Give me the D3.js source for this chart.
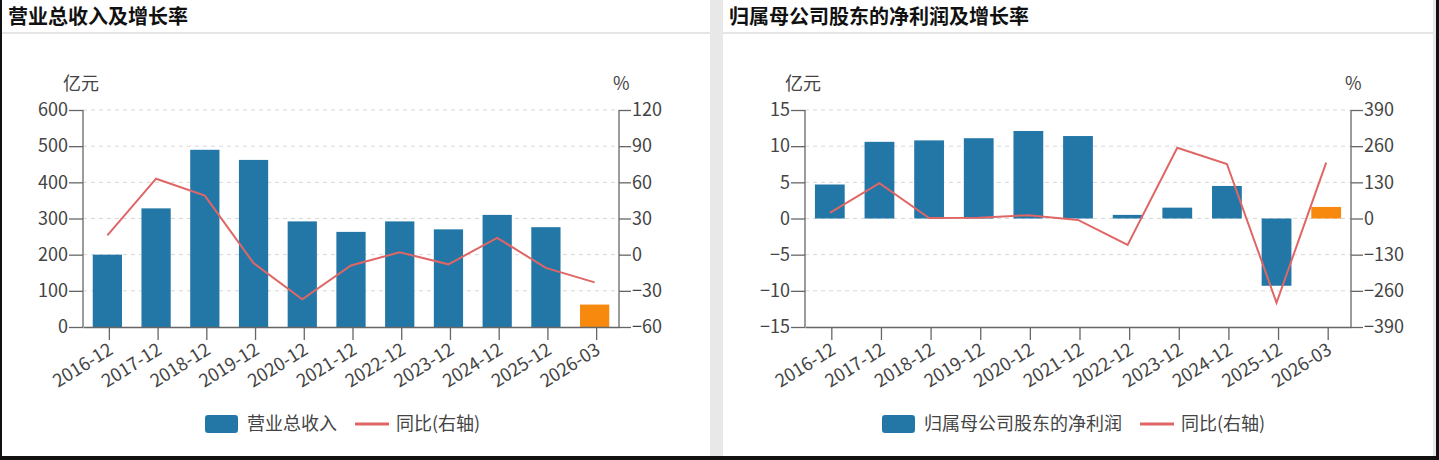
<!DOCTYPE html>
<html lang="zh">
<head>
<meta charset="UTF-8">
<title>营业总收入及增长率 / 归属母公司股东的净利润及增长率</title>
<script src="https://d3js.org/d3.v7.min.js"></script>
<style>
  body, html { margin: 0; padding: 0; background: #fff; }
  svg { display: block; font-family: "Noto Sans CJK SC", "Noto Sans", sans-serif; }
</style>
</head>
<body>
<div id="chart"></div>
<script>
// categories shared by both charts
var categories = ["2016-12", "2017-12", "2018-12", "2019-12", "2020-12", "2021-12",
                  "2022-12", "2023-12", "2024-12", "2025-12", "2026-03"];

// 营业总收入 (亿元) and its yoy (%)
var revenue    = [200, 328, 490, 462, 292, 263, 292, 270, 310, 276, 62];
var revenueYoY = [16, 63, 49, -7, -37, -9, 2, -8, 14, -11, -23];
var revTicksLeft  = [0, 100, 200, 300, 400, 500, 600];
var revTicksRight = [-60, -30, 0, 30, 60, 90, 120];

// 归属母公司股东的净利润 (亿元) and its yoy (%)
var profit    = [4.7, 10.6, 10.8, 11.1, 12.1, 11.4, 0.5, 1.5, 4.5, -9.3, 1.6];
var profitYoY = [20, 127, 2, 3, 12, -5, -95, 254, 196, -303, 201];
var profitTicksLeft  = [-15, -10, -5, 0, 5, 10, 15];
var profitTicksRight = [-390, -260, -130, 0, 130, 260, 390];

var W = 1439, H = 460;
var blue = "#2277a7", orange = "#f7890f", red = "#e06666";
var textColor = "#444", axColor = "#666";

var svg = d3.select("#chart").append("svg")
    .attr("width", W)
    .attr("height", H);

// page background, gap between the two cards, outer frame
svg.append("rect").attr("width", W).attr("height", H).attr("fill", "#fff");
svg.append("rect").attr("x", 710).attr("y", 0).attr("width", 13).attr("height", H).attr("fill", "#e8e8e8");
svg.append("rect").attr("x", 1433).attr("y", 0).attr("width", 3).attr("height", H).attr("fill", "#e8e8e8");
svg.append("rect").attr("x", 0).attr("y", 0).attr("width", 2).attr("height", H).attr("fill", "#111");
svg.append("rect").attr("x", 1436).attr("y", 0).attr("width", 3).attr("height", H).attr("fill", "#111");
svg.append("rect").attr("x", 0).attr("y", 456).attr("width", W).attr("height", 4).attr("fill", "#111");

function drawPanel(opt) {
    var g = svg.append("g");

    // card title + separator
    g.append("text")
        .attr("x", opt.cardX + 6)
        .attr("y", 24)
        .attr("font-size", 20)
        .attr("font-weight", "bold")
        .attr("fill", "#111")
        .text(opt.title);
    g.append("line")
        .attr("x1", opt.cardX).attr("x2", opt.cardX + opt.cardW)
        .attr("y1", 33).attr("y2", 33)
        .attr("stroke", "#ddd").attr("stroke-width", 1.5);

    var x = d3.scaleBand()
        .domain(categories)
        .range([opt.left, opt.right])
        .paddingInner(0.4)
        .paddingOuter(0.2);

    var yL = d3.scaleLinear()
        .domain(d3.extent(opt.ticksLeft))
        .range([opt.bottom, opt.top]);
    var yR = d3.scaleLinear()
        .domain(d3.extent(opt.ticksRight))
        .range([opt.bottom, opt.top]);

    // dashed grid
    g.selectAll(".grid")
        .data(opt.ticksLeft.filter(function(t) { return yL(t) < opt.bottom - 1; }))
        .enter().append("line")
        .attr("x1", opt.left).attr("x2", opt.right)
        .attr("y1", function(d) { return yL(d); })
        .attr("y2", function(d) { return yL(d); })
        .attr("stroke", "#d8d8d8")
        .attr("stroke-dasharray", "4,4");

    // bars
    g.selectAll(".bar")
        .data(opt.bars)
        .enter().append("rect")
        .attr("x", function(d, i) { return x(categories[i]); })
        .attr("width", x.bandwidth())
        .attr("y", function(d) { return yL(Math.max(0, d)); })
        .attr("height", function(d) { return Math.abs(yL(d) - yL(0)); })
        .attr("fill", function(d, i) { return i === categories.length - 1 ? orange : blue; });

    // yoy line on the right axis
    var line = d3.line()
        .x(function(d, i) { return x(categories[i]) + x.bandwidth() / 2; })
        .y(function(d) { return yR(d); });
    g.append("path")
        .datum(opt.yoy)
        .attr("d", line)
        .attr("fill", "none")
        .attr("stroke", red)
        .attr("stroke-width", 2);

    // axes
    var axL = g.append("g")
        .attr("transform", "translate(" + opt.left + ",0)")
        .call(d3.axisLeft(yL).tickValues(opt.ticksLeft).tickSize(14).tickPadding(1));
    var axR = g.append("g")
        .attr("transform", "translate(" + opt.right + ",0)")
        .call(d3.axisRight(yR).tickValues(opt.ticksRight).tickSize(12).tickPadding(1));
    var axB = g.append("g")
        .attr("transform", "translate(0," + opt.bottom + ")")
        .call(d3.axisBottom(x).tickSize(13).tickSizeOuter(0).tickPadding(3));

    [axL, axR, axB].forEach(function(a) {
        a.selectAll("path, line").attr("stroke", axColor).attr("stroke-width", 1.3);
        a.selectAll("text")
            .attr("fill", textColor)
            .attr("font-size", 18)
            .attr("font-family", "'Noto Sans CJK SC', sans-serif");
    });
    axL.select(".domain").attr("d", "M0," + opt.bottom + "V" + opt.top);
    axR.select(".domain").attr("d", "M0," + opt.bottom + "V" + opt.top);

    axB.selectAll(".tick line").attr("transform", "translate(2,0)");
    axB.selectAll("text")
        .attr("text-anchor", "end")
        .attr("y", 0)
        .attr("dy", "0.72em")
        .attr("transform", "translate(0,15) rotate(-32)");

    // axis units
    g.append("text")
        .attr("x", opt.left - 20).attr("y", 90)
        .attr("font-size", 18).attr("fill", textColor)
        .text("亿元");
    g.append("text")
        .attr("x", opt.right - 6).attr("y", 90)
        .attr("font-size", 18).attr("fill", textColor)
        .text("%");

    // legend
    var lg = g.append("g").attr("transform", "translate(" + opt.legendX + ",424)");
    lg.append("rect")
        .attr("x", 0).attr("y", -9)
        .attr("width", 33).attr("height", 18)
        .attr("rx", 3)
        .attr("fill", blue);
    var t1 = lg.append("text")
        .attr("x", 42).attr("y", 0).attr("dy", "0.35em")
        .attr("font-size", 18).attr("fill", textColor)
        .text(opt.barName);
    var w1 = t1.node().getComputedTextLength();
    lg.append("line")
        .attr("x1", 42 + w1 + 18).attr("x2", 42 + w1 + 52)
        .attr("y1", 0).attr("y2", 0)
        .attr("stroke", red).attr("stroke-width", 3);
    lg.append("text")
        .attr("x", 42 + w1 + 59).attr("y", 0).attr("dy", "0.35em")
        .attr("font-size", 18).attr("fill", textColor)
        .text("同比(右轴)");
}

drawPanel({
    title: "营业总收入及增长率",
    cardX: 2, cardW: 708,
    left: 83, right: 619, top: 110, bottom: 327,
    bars: revenue, yoy: revenueYoY,
    ticksLeft: revTicksLeft, ticksRight: revTicksRight,
    barName: "营业总收入",
    legendX: 205
});

drawPanel({
    title: "归属母公司股东的净利润及增长率",
    cardX: 723, cardW: 710,
    left: 805, right: 1351, top: 110, bottom: 327,
    bars: profit, yoy: profitYoY,
    ticksLeft: profitTicksLeft, ticksRight: profitTicksRight,
    barName: "归属母公司股东的净利润",
    legendX: 882
});
</script>
</body>
</html>
